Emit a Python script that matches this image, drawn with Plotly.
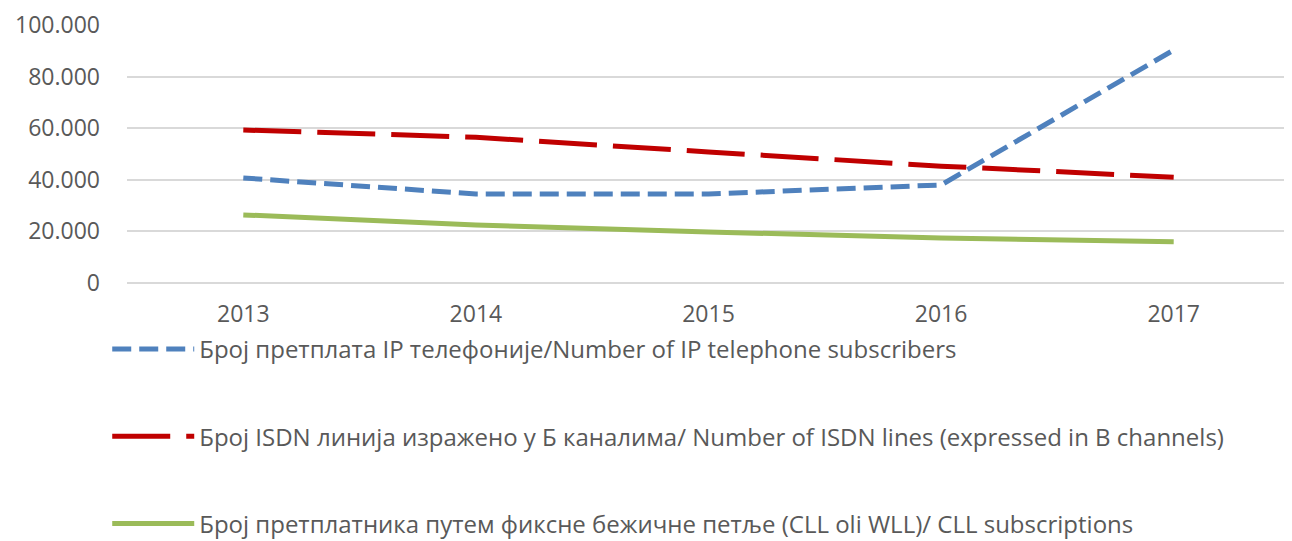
import plotly.graph_objects as go

years = ["2013", "2014", "2015", "2016", "2017"]
ip_subscribers = [40700, 34500, 34500, 38000, 90300]
isdn_lines = [59300, 56500, 50800, 45300, 41000]
cll_subscriptions = [26400, 22500, 19800, 17400, 16000]

names = [
    "Број претплата IP телефоније/Number of IP telephone subscribers",
    "Број ISDN линија изражено у Б каналима/ Number of ISDN lines (expressed in B channels)",
    "Број претплатника путем фиксне бежичне петље (CLL oli WLL)/ CLL subscriptions",
]

font_family = "Open Sans, Liberation Sans, sans-serif"
txt = "#595959"

fig = go.Figure()
fig.add_trace(go.Scatter(x=years, y=ip_subscribers, mode="lines", name=names[0], legendgroup="a",
                         line=dict(color="#4f81bd", width=5, dash="19px,8px")))
fig.add_trace(go.Scatter(x=years, y=isdn_lines, mode="lines", name=names[1], legendgroup="b",
                         line=dict(color="#c00000", width=5, dash="58px,16px")))
fig.add_trace(go.Scatter(x=years, y=cll_subscriptions, mode="lines", name=names[2], legendgroup="c",
                         line=dict(color="#9bbb59", width=5)))

# page has an 8px body margin; figure coords = screen - 8
T, B = 17, 275  # plot top/bottom in figure coords

def ypos(py_fig):
    return (B - py_fig) / float(B - T)

fig.update_layout(
    width=1292, height=541,
    margin=dict(l=119, r=10, t=T, b=541 - B, autoexpand=False),
    plot_bgcolor="white", paper_bgcolor="white",
    font=dict(family=font_family, color=txt),
    legend=dict(orientation="v", xanchor="left", yanchor="top", xref="paper", yref="paper",
                x=-0.017, y=ypos(319), tracegroupgap=53, itemwidth=82,
                font=dict(family=font_family, size=24, color=txt), bgcolor="rgba(0,0,0,0)"),
    xaxis=dict(type="category", range=[-0.5, 4.5], showgrid=False, showline=False, ticks="",
               tickfont=dict(size=23, color=txt), ticklabelstandoff=15),
    yaxis=dict(range=[0, 100000], dtick=20000, tickformat=",.0f",
               showgrid=True, gridcolor="#d9d9d9", gridwidth=1.5, zeroline=True,
               zerolinecolor="#d9d9d9", zerolinewidth=1.5, showline=False, ticks="",
               tickfont=dict(size=23, color=txt), ticklabelstandoff=26),
    separators=",.",
)

fig.write_html("out.html")
